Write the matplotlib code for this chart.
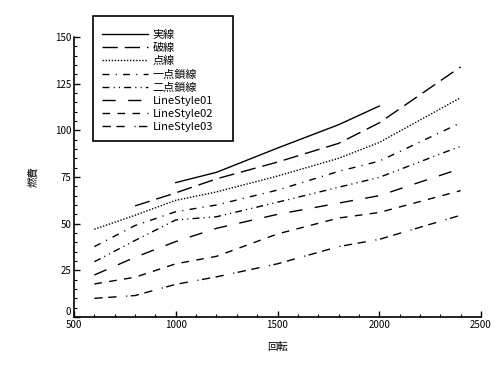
import numpy as np
import matplotlib
matplotlib.use("Agg")
import matplotlib.pyplot as plt
from matplotlib.patches import Rectangle
from matplotlib.ticker import MultipleLocator, FuncFormatter

plt.rcParams['font.family'] = ['Noto Sans CJK JP', 'DejaVu Sans']
plt.rcParams['lines.scale_dashes'] = False

# データ (回転 vs 燃費)
x = np.array([600, 800, 1000, 1200, 1500, 1800, 2000, 2400])
nan = np.nan
s_solid   = [nan, nan, 72.0, 77.5, 90.5, 103.0, 113.0, nan]
s_dashed  = [nan, 59.5, 66.5, 74.0, 83.0, 93.0, 104.0, 134.0]
s_dotted  = [47.0, 54.5, 62.5, 67.0, 75.5, 85.0, 93.5, 117.5]
s_dashdot = [37.7, 49.0, 56.4, 60.0, 68.0, 78.0, 83.5, 104.0]
s_dd2     = [29.6, 41.0, 52.0, 53.7, 61.5, 69.5, 74.8, 91.5]
s_ls01    = [22.5, 32.0, 40.4, 47.5, 55.0, 61.0, 65.0, 79.5]
s_ls02    = [17.7, 21.3, 28.5, 32.5, 44.5, 53.0, 56.0, 67.7]
s_ls03    = [10.0, 11.5, 17.5, 21.5, 28.5, 37.7, 41.6, 54.5]

labels = ["実線", "破線", "点線", "一点鎖線", "二点鎖線",
          "LineStyle01", "LineStyle02", "LineStyle03"]
series = [s_solid, s_dashed, s_dotted, s_dashdot, s_dd2, s_ls01, s_ls02, s_ls03]

# 線種 (ポイント単位)
styles = [
    "-",
    (0, (11, 5)),
    (0, (1, 1.2)),
    (0, (5, 4.5, 0.8, 4.5)),
    (0, (5, 3, 0.8, 3, 0.8, 3)),
    (0, (9.5, 9)),
    (0, (5.5, 5.3)),
    (0, (6, 4, 6, 7, 0.8, 2.5)),
]

fig = plt.figure(figsize=(5.0, 3.74), dpi=100)
ax = fig.add_axes([0.148, 0.1524, 0.814, 0.7487])

handles = []
for y, ls, lab in zip(series, styles, labels):
    h, = ax.plot(x, y, color="black", linestyle=ls, linewidth=1.0, label=lab)
    handles.append(h)

ax.set_xlim(500, 2500)
ax.set_ylim(0, 150)
ax.xaxis.set_major_locator(MultipleLocator(500))
ax.xaxis.set_minor_locator(MultipleLocator(100))
ax.yaxis.set_major_locator(MultipleLocator(25))
ax.yaxis.set_minor_locator(MultipleLocator(5))
# y の "0" は軸線の少し上に別に描く
ax.yaxis.set_major_formatter(FuncFormatter(lambda v, p: "" if v == 0 else f"{v:g}"))
ax.annotate("0", xy=(0, 0), xycoords="axes fraction", xytext=(-2, -0.3),
            textcoords="offset points", ha="right", va="bottom", fontsize=7)

for sp in ["top", "right"]:
    ax.spines[sp].set_visible(False)
for sp in ["left", "bottom"]:
    ax.spines[sp].set_linewidth(1.2)

ax.tick_params(which="major", direction="in", length=4, width=1.0, labelsize=7, pad=2)
ax.tick_params(which="minor", direction="in", length=2.2, width=0.8)

ax.set_xlabel("回転", fontsize=7.5, labelpad=9)
ax.set_ylabel("燃費", fontsize=7.5, labelpad=12)

leg = fig.legend(handles=handles, loc="upper left",
                 bbox_to_anchor=(102 / 500, 1 - 29.5 / 374),
                 frameon=False, fontsize=8, handlelength=4.1,
                 handletextpad=0.45, labelspacing=0.28, borderpad=0,
                 borderaxespad=0)

fig.patches.append(Rectangle((93 / 500, 1 - 141 / 374), 140 / 500, 125 / 374,
                             transform=fig.transFigure, fill=False,
                             edgecolor="black", linewidth=1.2))

fig.savefig("out.png", dpi=100)
